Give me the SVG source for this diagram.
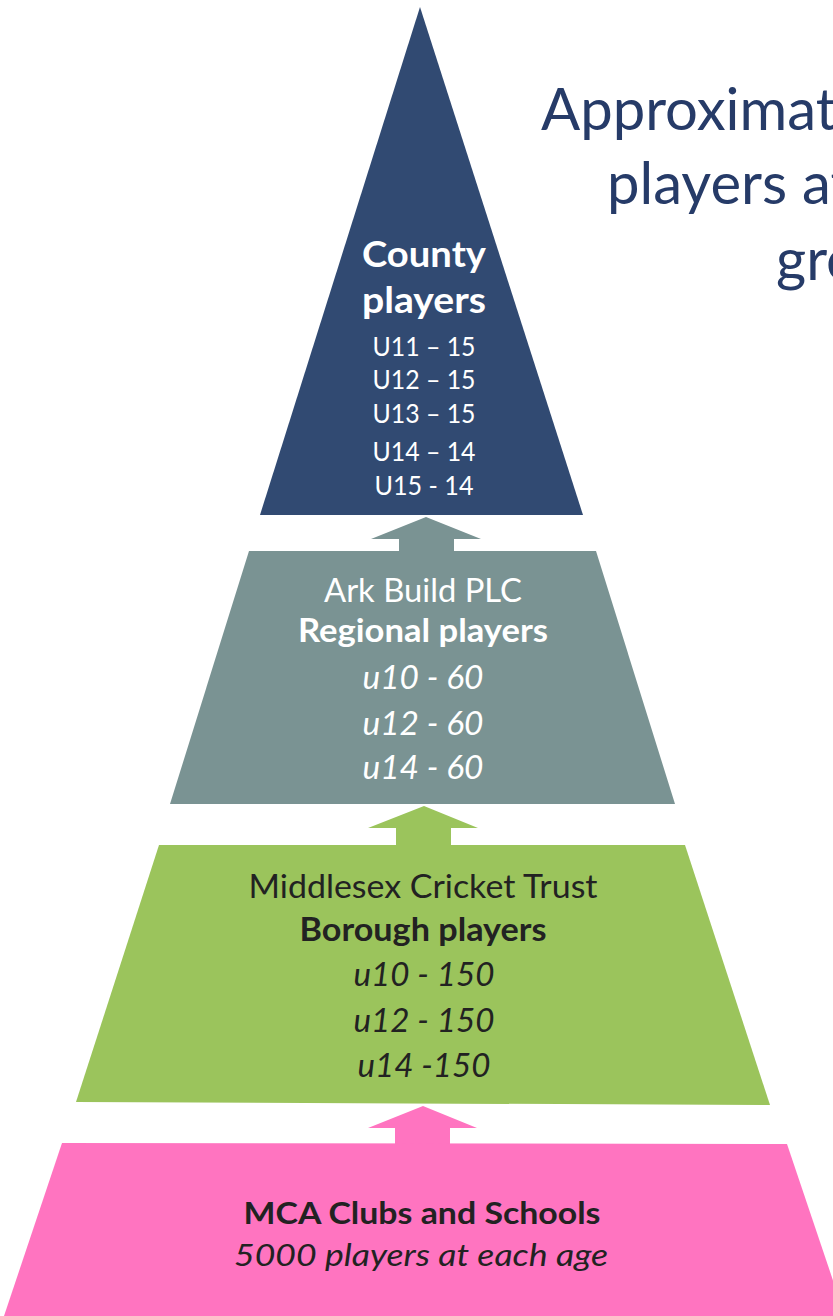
<svg xmlns="http://www.w3.org/2000/svg" width="833" height="1316" viewBox="0 0 833 1316">
<style>
text{font-family:Lato,"Open Sans","Liberation Sans",sans-serif;text-anchor:middle}
.w{fill:#ffffff}
.d{fill:#222222}
.b{font-weight:bold}
.i{font-style:italic}
.title{fill:#263B68;text-anchor:start;font-size:58px}
</style>
<rect x="0" y="0" width="833" height="1316" fill="#ffffff"/>
<g id="title">
<text class="title" x="541" y="130">Approximat</text>
<text class="title" x="607" y="204">players at</text>
<text class="title" x="776" y="280">gro</text>
</g>
<g id="connectors">
<polygon fill="#7A9393" points="426,517 481,539 454,539 454,552 399,552 399,539 371,539"/>
<polygon fill="#9BC45C" points="424,806 478,828 451,828 451,846 396,846 396,828 368,828"/>
<polygon fill="#FF74C0" points="423,1106 477,1128 450,1128 450,1144 395,1144 395,1128 368,1128"/>
</g>
<g id="county">
<polygon fill="#314A72" points="420,7 260,515 583,515"/>
<text class="w b" x="424" y="267" font-size="37" textLength="124" lengthAdjust="spacingAndGlyphs">County</text>
<text class="w b" x="424" y="313" font-size="37" textLength="124" lengthAdjust="spacingAndGlyphs">players</text>
<text class="w" x="424" y="356" font-size="27.5" textLength="103" lengthAdjust="spacingAndGlyphs">U11 – 15</text>
<text class="w" x="424" y="389" font-size="27.5" textLength="103" lengthAdjust="spacingAndGlyphs">U12 – 15</text>
<text class="w" x="424" y="423" font-size="27.5" textLength="103" lengthAdjust="spacingAndGlyphs">U13 – 15</text>
<text class="w" x="424" y="461" font-size="27.5" textLength="103" lengthAdjust="spacingAndGlyphs">U14 – 14</text>
<text class="w" x="424" y="495" font-size="27.5" textLength="99" lengthAdjust="spacingAndGlyphs">U15 - 14</text>
</g>
<g id="regional">
<polygon fill="#7A9393" points="249,551 596,551 675,804 170,804"/>
<text class="w" x="423" y="602" font-size="32.5" textLength="198" lengthAdjust="spacingAndGlyphs">Ark Build PLC</text>
<text class="w b" x="423" y="642" font-size="32.5" textLength="250" lengthAdjust="spacingAndGlyphs">Regional players</text>
<text class="w i" x="423" y="689" font-size="32.5" textLength="121" lengthAdjust="spacingAndGlyphs">u10 - 60</text>
<text class="w i" x="423" y="735" font-size="32.5" textLength="121" lengthAdjust="spacingAndGlyphs">u12 - 60</text>
<text class="w i" x="423" y="779" font-size="32.5" textLength="121" lengthAdjust="spacingAndGlyphs">u14 - 60</text>
</g>
<g id="borough">
<polygon fill="#9BC45C" points="159,845 685,845 770,1105 76,1102"/>
<text class="d" x="423" y="898" font-size="32.5" textLength="349" lengthAdjust="spacingAndGlyphs">Middlesex Cricket Trust</text>
<text class="d b" x="423" y="941" font-size="32.5" textLength="247" lengthAdjust="spacingAndGlyphs">Borough players</text>
<text class="d i" x="424" y="986" font-size="32.5" textLength="141" lengthAdjust="spacingAndGlyphs">u10 - 150</text>
<text class="d i" x="424" y="1032" font-size="32.5" textLength="141" lengthAdjust="spacingAndGlyphs">u12 - 150</text>
<text class="d i" x="424" y="1077" font-size="32.5" textLength="133" lengthAdjust="spacingAndGlyphs">u14 -150</text>
</g>
<g id="clubs">
<polygon fill="#FF74C0" points="62,1143 787,1144 845,1316 4,1316"/>
<text class="d b" x="422" y="1224" font-size="31" textLength="357" lengthAdjust="spacingAndGlyphs">MCA Clubs and Schools</text>
<text class="d i" x="421" y="1266" font-size="31" textLength="374" lengthAdjust="spacingAndGlyphs">5000 players at each age</text>
</g>
</svg>
